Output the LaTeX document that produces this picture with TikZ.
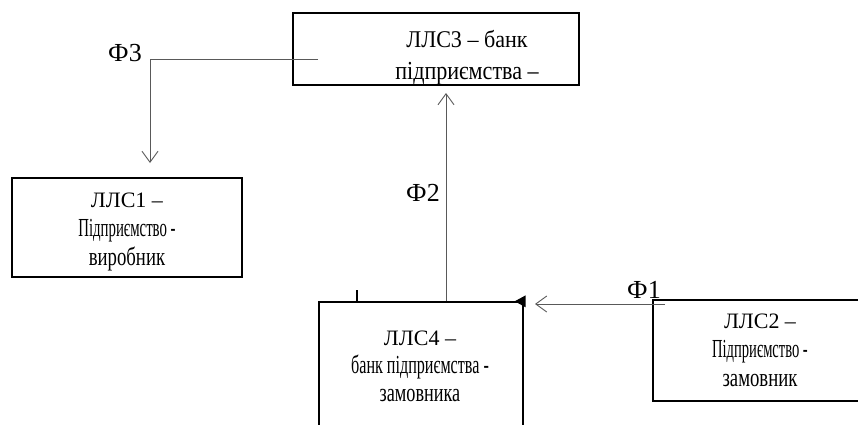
\documentclass[tikz,border=0pt]{standalone}
\usepackage{fontspec}
\setmainfont{Liberation Serif}
\usetikzlibrary{arrows.meta}
\tikzset{
  boxnode/.style={draw=black, line width=1.4pt, inner sep=0pt},
  boxtext/.style={inner sep=0pt, align=center, anchor=north},
  flow/.style={draw=black!65, line width=0.9pt, -{Straight Barb[length=11pt,width=16pt,line width=0.9pt]}},
  flowlabel/.style={font=\fontsize{26}{28}\selectfont, inner sep=0pt}
}
\newcommand{\myline}[3]{{\fontsize{#1}{10}\selectfont\scalebox{#2}[1]{#3}}}
\newcommand{\myskip}[1]{\fontsize{22}{#1}\selectfont\lineskiplimit=-100pt\lineskip=0pt}
\begin{document}
\begin{tikzpicture}[x=1pt,y=-1pt]
\useasboundingbox (0,0) rectangle (858,424);
\clip (0,0) rectangle (858,424);
% boxes
\node[boxnode, minimum width=286pt, minimum height=72pt] (b3) at (436,49) {};
\node[boxnode, minimum width=230pt, minimum height=99pt] (b1) at (127,227.5) {};
\node[boxnode, minimum width=204pt, minimum height=126pt] (b4) at (421,365) {};
\node[boxnode, minimum width=220pt, minimum height=101pt] (b2) at (763,350.5) {};
% box texts
\node[boxtext, font=\myskip{32}] (t3) at (467,30)
  {\myline{24}{0.92}{ЛЛС3 – банк}\\ \myline{26}{0.85}{підприємства –}};
\node[boxtext, font=\myskip{29}] (t1) at (127,193)
  {\myline{22}{1}{ЛЛС1 –}\\ \myline{26}{0.57}{Підприємство -}\\ \myline{26}{0.72}{виробник}};
\node[boxtext, font=\myskip{28}] (t4) at (420,331)
  {\myline{22}{1}{ЛЛС4 –}\\ \myline{26}{0.62}{банк підприємства -}\\ \myline{26}{0.70}{замовника}};
\node[boxtext, font=\myskip{29}] (t2) at (760,314)
  {\myline{22}{1}{ЛЛС2 –}\\ \myline{26}{0.56}{Підприємство -}\\ \myline{26}{0.72}{замовник}};
% connector coordinates
\coordinate (f3s) at (318,59);
\coordinate (f3c) at (150,59);
\coordinate (f3e) at (150,163);
\coordinate (f2e) at (446,93);
\coordinate (f1s) at (665,304);
\coordinate (f1e) at (535,304);
\coordinate (tk) at (357,290);
% connectors
\draw[flow] (f3s) -- (f3c) -- (f3e);
\draw[flow] (b4.north -| f2e) -- (f2e);
\draw[flow] (f1s) -- (f1e);
% tick and filled triangle
\draw[line width=1.4pt] (tk) -- (tk |- b4.north);
\fill[black] (b4.north east) ++(-9,0) -- ++(11,-6) -- ++(0,12) -- cycle;
% labels
\node[flowlabel] (l3) at (125,53) {Ф3};
\node[flowlabel] (l2) at (423,193) {Ф2};
\node[flowlabel] (l1) at (644,290) {Ф1};
\end{tikzpicture}
\end{document}
